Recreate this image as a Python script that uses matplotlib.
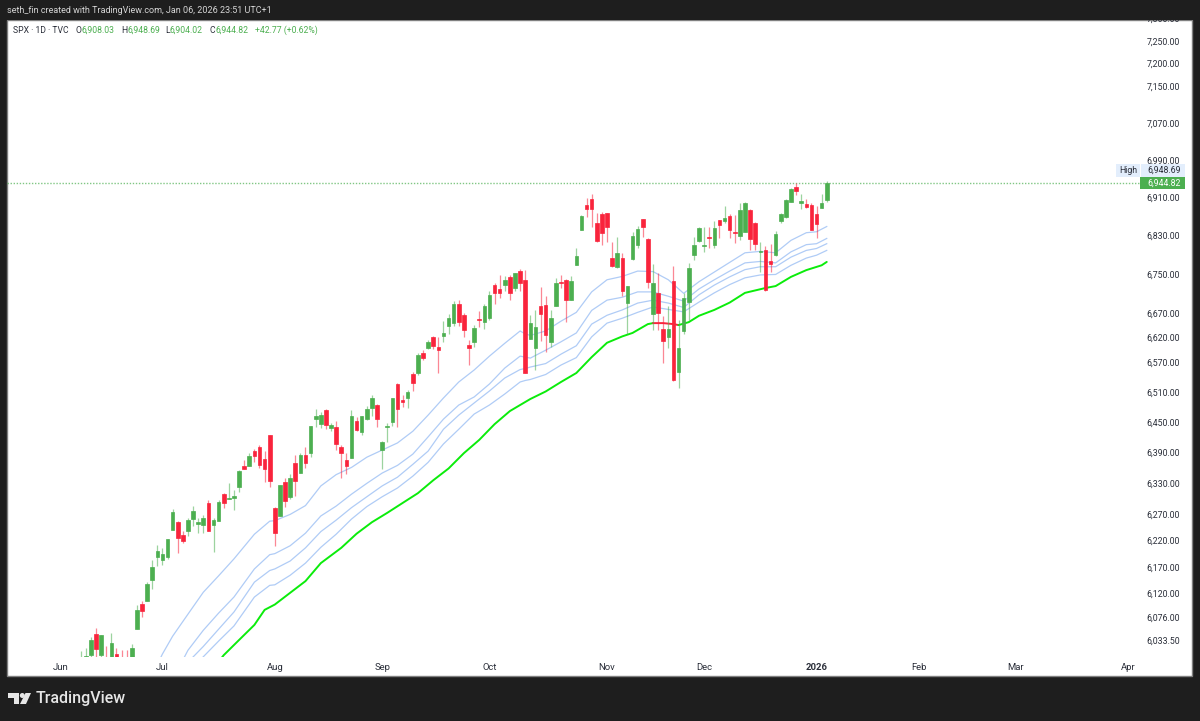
# SPX daily candles with moving average ribbon, TradingView snapshot look

import matplotlib
matplotlib.use('Agg')
import matplotlib.pyplot as plt
from matplotlib.patches import Rectangle, Polygon, Circle
from matplotlib.transforms import ScaledTranslation

plt.rcParams['font.family'] = ['Roboto', 'DejaVu Sans']

W, H = 1200, 721

first_bar = 4  # Jun 6, bar 0 is Jun 2

highs = [6016, 6021, 6041, 6058, 6046, 6024, 6049, 6021, 6017, 6017, 6029, 6101, 6108, 6145, 6186, 6214, 6208, 6226, 6284, 6261,
         6241, 6267, 6289, 6267, 6271, 6301, 6267, 6301, 6315, 6334, 6320, 6359, 6379, 6393, 6400, 6407, 6396, 6428, 6287, 6329,
         6344, 6351, 6388, 6393, 6405, 6445, 6480, 6473, 6480, 6452, 6455, 6408, 6393, 6478, 6464, 6466, 6485, 6507, 6490, 6416,
         6452, 6501, 6530, 6507, 6517, 6554, 6591, 6598, 6618, 6626, 6623, 6656, 6670, 6698, 6699, 6672, 6618, 6648, 6676, 6691,
         6717, 6734, 6751, 6749, 6750, 6756, 6764, 6761, 6668, 6678, 6727, 6708, 6678, 6744, 6750, 6743, 6749, 6807, 6877, 6912,
         6921, 6880, 6883, 6881, 6819, 6829, 6796, 6728, 6841, 6854, 6868, 6827, 6774, 6755, 6667, 6688, 6770, 6658, 6713, 6775,
         6831, 6851, 6852, 6852, 6863, 6866, 6895, 6878, 6876, 6901, 6903, 6888, 6861, 6819, 6811, 6816, 6843, 6881, 6910, 6934,
         6945, 6921, 6911, 6901, 6895, 6921, 6948.69]
opens = [5987, 6005, 6009, 6047, 6009, 6000, 6004, 6010, 5990, 6005, 5970, 6057, 6103, 6109, 6148, 6191, 6186, 6191, 6244, 6258,
         6233, 6242, 6264, 6254, 6252, 6295, 6252, 6261, 6312, 6303, 6305, 6325, 6367, 6367, 6396, 6405, 6380, 6428, 6286, 6270,
         6335, 6307, 6372, 6354, 6389, 6393, 6459, 6450, 6477, 6441, 6444, 6405, 6379, 6382, 6456, 6434, 6459, 6482, 6488, 6399,
         6444, 6453, 6529, 6497, 6501, 6549, 6552, 6591, 6601, 6623, 6603, 6625, 6646, 6652, 6691, 6668, 6607, 6613, 6660, 6654,
         6663, 6731, 6722, 6731, 6746, 6723, 6760, 6740, 6620, 6601, 6687, 6689, 6613, 6688, 6737, 6741, 6700, 6771, 6845, 6897,
         6911, 6860, 6878, 6881, 6787, 6767, 6787, 6694, 6784, 6814, 6867, 6825, 6671, 6713, 6641, 6623, 6738, 6553, 6635, 6696,
         6793, 6822, 6811, 6830, 6814, 6866, 6864, 6874, 6841, 6832, 6841, 6886, 6860, 6798, 6803, 6780, 6792, 6863, 6871, 6904,
         6935, 6902, 6899, 6898, 6878, 6892, 6908.03]
closes = [6000, 6006, 6036, 6019, 6045, 5977, 6031, 5982, 5981, 5967, 6022, 6092, 6090, 6140, 6172, 6203, 6197, 6225, 6278, 6228,
          6223, 6262, 6280, 6258, 6267, 6242, 6262, 6297, 6295, 6305, 6309, 6357, 6361, 6386, 6387, 6369, 6361, 6337, 6237, 6329,
          6298, 6344, 6337, 6388, 6372, 6445, 6465, 6467, 6447, 6447, 6409, 6393, 6367, 6465, 6437, 6465, 6480, 6500, 6459, 6414,
          6446, 6500, 6479, 6494, 6512, 6530, 6587, 6582, 6613, 6606, 6597, 6632, 6663, 6692, 6654, 6637, 6602, 6642, 6658, 6687,
          6709, 6714, 6714, 6740, 6713, 6755, 6734, 6552, 6653, 6644, 6670, 6628, 6663, 6735, 6735, 6699, 6738, 6790, 6875, 6889,
          6889, 6821, 6838, 6851, 6770, 6796, 6718, 6728, 6832, 6846, 6850, 6736, 6734, 6672, 6615, 6641, 6537, 6602, 6703, 6766,
          6813, 6849, 6814, 6828, 6849, 6855, 6870, 6845, 6839, 6886, 6902, 6826, 6816, 6800, 6720, 6774, 6836, 6878, 6909, 6932,
          6928, 6905, 6893, 6845, 6858, 6902, 6944.82]
lows = [5978, 5992, 6000, 6002, 6003, 5963, 6000, 5970, 5971, 5952, 5943, 6056, 6078, 6108, 6132, 6174, 6176, 6187, 6243, 6200,
        6219, 6231, 6251, 6238, 6238, 6241, 6202, 6261, 6285, 6303, 6282, 6317, 6361, 6367, 6374, 6362, 6336, 6325, 6213, 6270,
        6288, 6302, 6309, 6354, 6362, 6384, 6444, 6441, 6440, 6436, 6399, 6344, 6352, 6382, 6435, 6428, 6458, 6466, 6444, 6361,
        6414, 6445, 6444, 6484, 6482, 6515, 6546, 6577, 6600, 6599, 6552, 6613, 6629, 6646, 6646, 6623, 6567, 6604, 6644, 6641,
        6658, 6691, 6704, 6718, 6699, 6718, 6717, 6552, 6620, 6558, 6615, 6594, 6604, 6688, 6724, 6655, 6700, 6771, 6845, 6871,
        6852, 6819, 6814, 6820, 6767, 6765, 6707, 6630, 6782, 6807, 6830, 6725, 6638, 6638, 6571, 6602, 6534, 6521, 6630, 6658,
        6782, 6820, 6799, 6806, 6807, 6828, 6859, 6827, 6817, 6824, 6841, 6802, 6802, 6758, 6718, 6758, 6790, 6859, 6870, 6903,
        6919, 6889, 6892, 6844, 6827, 6890, 6904.02]

ma_bars = [18, 20, 22, 25, 28, 31, 34, 38, 41, 42, 45, 48, 51, 54, 57, 60, 63, 66, 69, 72, 75, 78, 81, 84,
           87, 90, 91, 92, 95, 98, 101, 104, 107, 110, 113, 116, 119, 122, 125, 128, 131, 134, 137, 140, 143, 146, 148, 150]
ma_1 = [5971, 6010, 6043, 6084, 6125, 6156, 6188, 6235, 6260, 6261, 6273, 6290, 6328, 6350, 6364, 6384, 6398, 6412, 6435, 6467, 6501, 6533, 6557, 6585,
        6611, 6636, 6630, 6627, 6636, 6656, 6674, 6716, 6741, 6748, 6759, 6758, 6741, 6713, 6737, 6757, 6777, 6797, 6800, 6797, 6823, 6839, 6841, 6852]
ma_2 = [5907, 5935, 5963, 6017, 6054, 6086, 6116, 6169, 6196, 6198, 6213, 6237, 6270, 6289, 6312, 6333, 6353, 6368, 6390, 6424, 6459, 6487, 6503, 6529,
        6561, 6585, 6583, 6581, 6597, 6614, 6632, 6678, 6699, 6705, 6716, 6716, 6707, 6697, 6722, 6741, 6759, 6776, 6779, 6776, 6799, 6814, 6816, 6827]
ma_3 = [5922, 5944, 5965, 5995, 6024, 6056, 6088, 6144, 6166, 6169, 6184, 6209, 6240, 6262, 6286, 6307, 6328, 6345, 6370, 6396, 6439, 6467, 6491, 6515,
        6541, 6558, 6560, 6563, 6570, 6589, 6606, 6650, 6668, 6679, 6693, 6699, 6693, 6684, 6710, 6730, 6747, 6762, 6768, 6768, 6788, 6802, 6806, 6816]
ma_4 = [5910, 5929, 5947, 5975, 6005, 6034, 6062, 6116, 6138, 6139, 6157, 6180, 6210, 6235, 6264, 6288, 6307, 6324, 6347, 6374, 6410, 6439, 6469, 6487,
        6509, 6533, 6536, 6538, 6548, 6567, 6582, 6624, 6652, 6662, 6674, 6685, 6680, 6675, 6695, 6714, 6731, 6745, 6751, 6752, 6771, 6786, 6792, 6802]

slow_bars = [30, 32, 35, 38, 40, 42, 45, 48, 51, 55, 58, 61, 64, 67, 70, 73, 76, 79, 82, 85, 88, 91, 92, 95, 98, 101, 104, 107, 110,
             112, 115, 116, 118, 120, 121, 123, 125, 128, 131, 134, 138, 140, 143, 146, 149, 150]
slow_ma = [5984, 6008, 6036, 6064, 6092, 6102, 6124, 6146, 6180, 6209, 6236, 6258, 6276, 6295, 6314, 6339, 6362, 6392, 6418, 6449, 6475, 6493, 6499, 6514, 6533, 6551, 6583, 6612, 6625,
           6632, 6650, 6652, 6652, 6650, 6648, 6654, 6667, 6679, 6694, 6714, 6724, 6728, 6747, 6761, 6771, 6778]

price_ticks = [7300, 7250, 7200, 7150, 7070, 6990, 6910, 6830, 6750, 6670, 6620, 6570, 6510, 6450, 6390, 6330, 6270, 6220, 6170, 6120, 6076, 6033.5]
month_bars = [0, 20, 42, 63, 84, 107, 126, 148, 168, 187, 209]
month_labels = ['Jun', 'Jul', 'Aug', 'Sep', 'Oct', 'Nov', 'Dec', '2026', 'Feb', 'Mar', 'Apr']

UP = '#4caf50'
DOWN = '#f9243c'
RIBBON = '#b0ccf6'
LIME = '#0bec0b'
TEXT = '#2a2e39'
FS = 6.3


def fx(px):
    return px / W


def fy(px):
    return 1 - px / H


fig = plt.figure(figsize=(W / 100, H / 100), dpi=100, facecolor='#1e1e1e')

# white panel under the chart
fig.add_artist(Rectangle((fx(7), fy(676)), fx(1192) - fx(7), (676 - 20) / H, transform=fig.transFigure,
                         facecolor='white', edgecolor='#808080', lw=1, zorder=-1))

ax = fig.add_axes([fx(7), fy(657), fx(1140) - fx(7), (657 - 20) / H], facecolor='none')
ax.set_yscale('log')
ax.set_xlim(-10.41, 211.3)
ax.set_ylim(6004.6, 7297)
for s in ax.spines.values():
    s.set_visible(False)

# ribbon under the candles
for ma in [ma_1, ma_2, ma_3, ma_4]:
    ax.plot(ma_bars, ma, color=RIBBON, lw=0.9, zorder=1)

rising = [b for b in slow_bars if b <= 116]
falling = [b for b in slow_bars if 116 <= b <= 121]
later = [b for b in slow_bars if b >= 121]
for part, col in [(rising, LIME), (falling, DOWN), (later, LIME)]:
    vals = [slow_ma[slow_bars.index(b)] for b in part]
    ax.plot(part, vals, color=col, lw=1.4, zorder=2, solid_capstyle='round')

ax.axhline(closes[-1], color=UP, lw=1, ls=(0, (1, 1.2)), alpha=0.7, zorder=1)

for n in range(len(opens)):
    b = first_bar + n
    col = UP if closes[n] >= opens[n] else DOWN
    ax.vlines(b, lows[n], highs[n], color=col, lw=0.9, alpha=0.55, zorder=3)
    ax.bar(b, abs(closes[n] - opens[n]), bottom=min(opens[n], closes[n]), width=0.7,
           color=col, edgecolor=col, lw=0.5, zorder=4)

ax.yaxis.tick_right()
ax.minorticks_off()
ax.set_yticks(price_ticks)
ax.set_yticklabels([f'{p:,.2f}' for p in price_ticks], fontsize=FS, color=TEXT)
ax.tick_params(axis='y', which='both', length=0, pad=4.5)
# labels sit a little above their price in the original
nudge = ScaledTranslation(0, 1.5 / 100, fig.dpi_scale_trans)
for lab in ax.get_yticklabels():
    lab.set_transform(lab.get_transform() + nudge)
ax.set_xticks(month_bars)
ax.set_xticklabels(month_labels, fontsize=6.8, color=TEXT)
ax.get_xticklabels()[7].set_fontweight('bold')
ax.tick_params(axis='x', length=0, pad=4)

# dark bar on top cuts the 7,300 label like the original
fig.add_artist(Rectangle((0, fy(20)), 1, 20 / H, transform=fig.transFigure, facecolor='#1e1e1e', edgecolor='none', zorder=5))
fig.text(fx(7), fy(10.5), 'seth_fin created with TradingView.com, Jan 06, 2026 23:51 UTC+1',
         color='#d6d6d6', fontsize=6.45, va='center', ha='left', zorder=6)

# legend row
legend_parts = [(13, 'SPX · 1D · TVC', TEXT), (75, 'O', TEXT), (81.5, '6,908.03', UP), (121, 'H', TEXT), (127, '6,948.69', UP),
                (165.5, 'L', TEXT), (170, '6,904.02', UP), (210, 'C', TEXT), (215, '6,944.82', UP), (255, '+42.77 (+0.62%)', UP)]
for px, s, col in legend_parts:
    fig.text(fx(px), fy(30.5), s, color=col, fontsize=6.2, va='center', ha='left')

# high and last price tags
fig.add_artist(Rectangle((fx(1116), fy(176.5)), 69 / W, 12.5 / H, transform=fig.transFigure, facecolor='#e3eefc', edgecolor='none', zorder=6))
fig.add_artist(Rectangle((fx(1140), fy(176.5)), 1 / W, 12.5 / H, transform=fig.transFigure, facecolor='white', edgecolor='none', zorder=6))
fig.text(fx(1128), fy(170.3), 'High', color=TEXT, fontsize=FS, va='center', ha='center', zorder=7)
fig.text(fx(1180.5), fy(170.3), f'{highs[-1]:,.2f}', color=TEXT, fontsize=FS, va='center', ha='right', zorder=7)
fig.add_artist(Rectangle((fx(1140), fy(189)), 45 / W, 12 / H, transform=fig.transFigure, facecolor=UP, edgecolor='none', zorder=6))
fig.text(fx(1180.5), fy(183), f'{closes[-1]:,.2f}', color='white', fontsize=FS, va='center', ha='right', zorder=7)

# TradingView logo
logo = '#e6e6e6'
fig.add_artist(Polygon([(fx(8), fy(693)), (fx(19), fy(693)), (fx(19), fy(704)), (fx(13.5), fy(704)), (fx(13.5), fy(698)), (fx(8), fy(698))],
                       closed=True, transform=fig.transFigure, facecolor=logo, edgecolor='none'))
fig.add_artist(Polygon([(fx(25.5), fy(693)), (fx(31), fy(693)), (fx(26), fy(704)), (fx(20), fy(704))],
                       closed=True, transform=fig.transFigure, facecolor=logo, edgecolor='none'))
logo_dot = Circle((22.3, H - 695.5), 2.5, transform=None, facecolor=logo, edgecolor='none')
fig.add_artist(logo_dot)
fig.text(fx(35.5), fy(699), 'TradingView', color=logo, fontsize=11.5, fontweight='medium', va='center', ha='left')

fig.savefig('out.png', dpi=100, facecolor=fig.get_facecolor())
